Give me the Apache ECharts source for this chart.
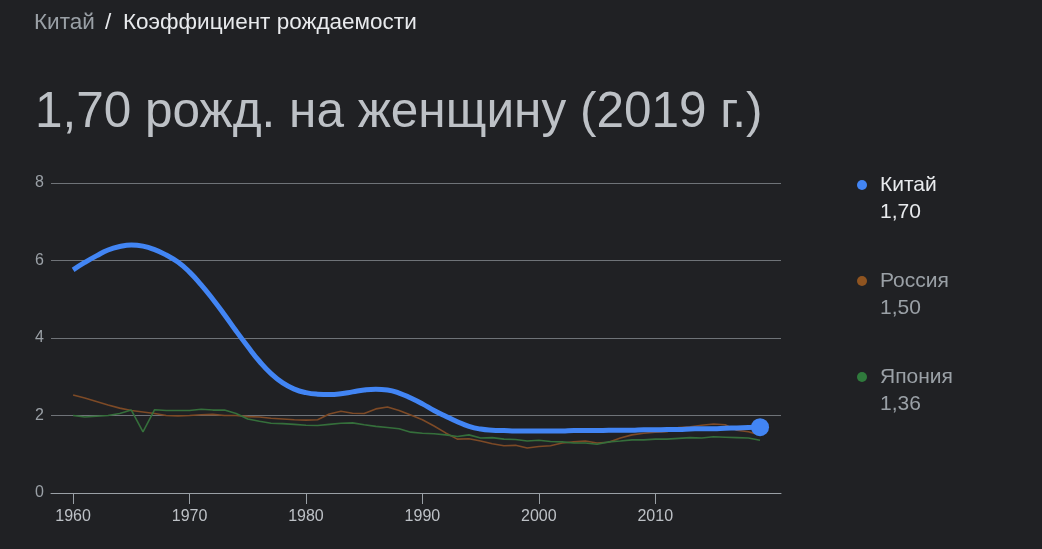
<!DOCTYPE html>
<html>
<head>
<meta charset="utf-8">
<script src="https://cdn.jsdelivr.net/npm/echarts@6/dist/echarts.min.js"></script>
<style>
html,body{margin:0;padding:0;background:#202124;}
#c{width:1042px;height:549px;}
</style>
</head>
<body>
<div id="c"></div>
<script>
const years = [1960,1961,1962,1963,1964,1965,1966,1967,1968,1969,
  1970,1971,1972,1973,1974,1975,1976,1977,1978,1979,
  1980,1981,1982,1983,1984,1985,1986,1987,1988,1989,
  1990,1991,1992,1993,1994,1995,1996,1997,1998,1999,
  2000,2001,2002,2003,2004,2005,2006,2007,2008,2009,
  2010,2011,2012,2013,2014,2015,2016,2017,2018,2019];

const china = [5.76,5.95,6.12,6.27,6.36,6.40,6.37,6.28,6.14,5.96,
  5.70,5.37,5.00,4.60,4.18,3.78,3.40,3.08,2.84,2.68,
  2.59,2.55,2.54,2.56,2.61,2.66,2.68,2.66,2.58,2.45,
  2.30,2.13,1.98,1.84,1.72,1.65,1.62,1.61,1.60,1.60,
  1.60,1.60,1.60,1.61,1.61,1.61,1.62,1.62,1.62,1.63,
  1.63,1.64,1.64,1.65,1.66,1.66,1.67,1.68,1.69,1.70];

const russia = [2.53,2.45,2.36,2.27,2.19,2.13,2.09,2.05,2.00,1.99,
  2.00,2.02,2.03,2.00,2.00,1.97,1.96,1.93,1.91,1.89,
  1.88,1.89,2.04,2.11,2.06,2.05,2.17,2.22,2.13,2.01,
  1.89,1.73,1.55,1.39,1.40,1.34,1.27,1.22,1.23,1.16,
  1.20,1.22,1.29,1.32,1.34,1.29,1.31,1.42,1.50,1.54,
  1.57,1.58,1.69,1.71,1.75,1.78,1.76,1.62,1.58,1.50];

const japan = [2.00,1.96,1.98,2.00,2.05,2.14,1.58,2.15,2.13,2.13,
  2.13,2.16,2.14,2.14,2.05,1.91,1.85,1.80,1.79,1.77,
  1.75,1.74,1.77,1.80,1.81,1.76,1.72,1.69,1.66,1.57,
  1.54,1.53,1.50,1.46,1.50,1.42,1.43,1.39,1.38,1.34,
  1.36,1.33,1.32,1.29,1.29,1.26,1.32,1.34,1.37,1.37,
  1.39,1.39,1.41,1.43,1.42,1.45,1.44,1.43,1.42,1.36];

const xTicks = [1960,1970,1980,1990,2000,2010];
const yTicks = [0,2,4,6,8];
const names = ['Китай','Россия','Япония'];
const lineColors = ['#4285f4','#7d4a26','#356f3b'];
const dotColors = ['#4285f4','#8f5420','#2f7a3c'];
const titleText = '1,70 рожд. на женщину (2019 г.)';

const FONT = '"Liberation Sans", Arial, sans-serif';
function pairs(arr){ return arr.map((v,i)=>[years[i], v]); }
function fmt(v){ return v.toFixed(2).replace('.', ','); }

const lastIdx = years.length - 1;
const chart = echarts.init(document.getElementById('c'));

const legendGraphics = [];
const allData = [china, russia, japan];
const legendY = [185, 281, 377];
names.forEach((n,i)=>{
  const textColor = i === 0 ? '#e8eaed' : '#9aa0a6';
  legendGraphics.push({type:'circle', shape:{cx:862, cy:legendY[i], r:5}, style:{fill:dotColors[i]}});
  legendGraphics.push({type:'text', x:880, y:legendY[i], style:{text:n, fill:textColor, font:'21px ' + FONT, textVerticalAlign:'middle'}});
  legendGraphics.push({type:'text', x:880, y:legendY[i]+27, style:{text:fmt(allData[i][lastIdx]), fill:textColor, font:'21px ' + FONT, textVerticalAlign:'middle'}});
});

chart.setOption({
  animation:false,
  backgroundColor:'#202124',
  grid:{left:51, right:261, top:183, bottom:56},
  xAxis:{
    type:'value', min:1958.1, max:2020.8,
    splitLine:{show:false},
    axisLine:{show:true, lineStyle:{color:'#9aa0a6', width:1}},
    axisTick:{show:true, length:11, customValues:xTicks, lineStyle:{color:'#9aa0a6'}},
    axisLabel:{customValues:xTicks, formatter:v=>String(v), color:'#bdc1c6', fontSize:16, margin:16, fontFamily:FONT}
  },
  yAxis:{
    type:'value', min:0, max:8, interval:2,
    axisLine:{show:false}, axisTick:{show:false},
    splitLine:{lineStyle:{color:'#6f7378', width:1}},
    axisLabel:{customValues:yTicks, formatter:v=>String(v), color:'#9aa0a6', fontSize:16, margin:7, fontFamily:FONT}
  },
  series:[
    {name:names[1], type:'line', data:pairs(russia), symbol:'none', lineStyle:{color:lineColors[1], width:1.6}, z:2},
    {name:names[2], type:'line', data:pairs(japan), symbol:'none', lineStyle:{color:lineColors[2], width:1.6}, z:2},
    {name:names[0], type:'line', data:pairs(china), smooth:0.5, showSymbol:true, showAllSymbol:true,
      symbol:'circle', symbolSize:(v,p)=>p.dataIndex===lastIdx?18:0,
      itemStyle:{color:lineColors[0]}, lineStyle:{color:lineColors[0], width:5}, z:3}
  ],
  graphic:[
    {type:'text', x:34, y:23, style:{text:'Китай', fill:'#9aa0a6', font:'22.5px ' + FONT, textVerticalAlign:'middle'}},
    {type:'text', x:105, y:23, style:{text:'/', fill:'#e8eaed', font:'22.5px ' + FONT, textVerticalAlign:'middle'}},
    {type:'text', x:123, y:23, style:{text:'Коэффициент рождаемости', fill:'#e8eaed', font:'22.5px ' + FONT, textVerticalAlign:'middle'}},
    {type:'text', x:35, y:113, style:{text:titleText, fill:'#bdc1c6', font:'49.5px ' + FONT, textVerticalAlign:'middle'}}
  ].concat(legendGraphics)
});
</script>
</body>
</html>
